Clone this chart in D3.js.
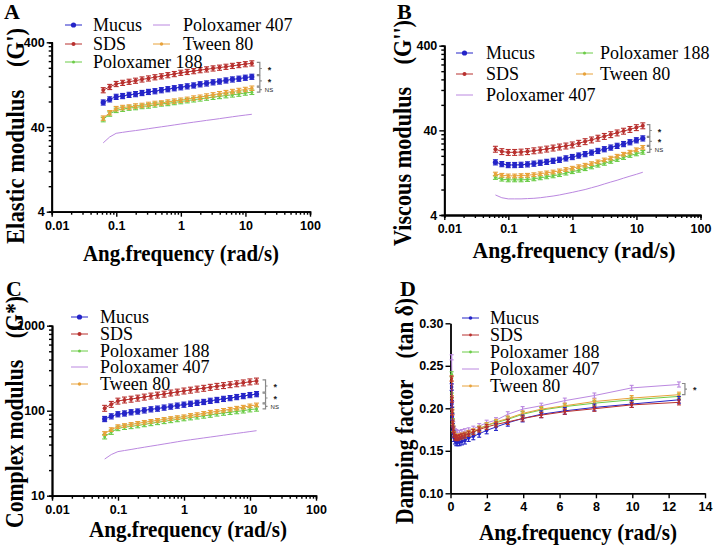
<!DOCTYPE html>
<html>
<head>
<meta charset="utf-8">
<script src="https://cdn.jsdelivr.net/npm/d3@7"></script>
<style>
body { margin: 0; background: #fff; }
svg { display: block; }
.tick text { font-family: "Liberation Sans", Arial, sans-serif; font-weight: bold; font-size: 12.5px; fill: #000; }
.title { font-family: "Liberation Serif", "Times New Roman", serif; font-weight: bold; fill: #000; white-space: pre; }
.legend text { font-family: "Liberation Serif", "Times New Roman", serif; font-size: 18px; fill: #000; white-space: pre; }
.sig { font-family: "Liberation Sans", Arial, sans-serif; fill: #222; }
</style>
</head>
<body>
<svg id="fig" width="714" height="551"></svg>
<script>
// angular frequency (rad/s)
var freq = [0.0628, 0.0791, 0.0996, 0.1254, 0.1579, 0.1988, 0.2503, 0.3151, 0.3967, 0.4994, 0.6287, 0.7915,
	0.9964, 1.2544, 1.5792, 1.9881, 2.5029, 3.1510, 3.9669, 4.9940, 6.2872, 7.9151, 9.9645, 12.5664];

var groups = ["Mucus", "SDS", "Poloxamer 188", "Poloxamer 407", "Tween 80"];
var groupColor = ["#2424c8", "#b8302e", "#6ccc48", "#bb88e0", "#e8a23a"];

// A - elastic modulus G'
var gpMucus = [78, 85, 91, 93, 96, 98, 101, 104, 106, 109, 112, 115, 118, 121, 124, 128, 131, 135, 138, 142, 146, 149, 153, 157];
var gpSDS = [109, 119, 129, 133, 137, 141, 146, 150, 155, 159, 164, 169, 175, 179, 183, 188, 192, 197, 201, 206, 211, 216, 221, 226];
var gpP188 = [49, 57, 63, 65, 67, 68, 70, 71, 73, 75, 76, 78, 80, 82, 84, 86, 88, 90, 92, 94, 96, 98, 101, 103];
var gpP407 = [26, 30.5, 33.7, 34.6, 35.5, 36.3, 37.2, 38.2, 39.2, 40.2, 41.2, 42.3, 43.4, 44.5, 45.6, 46.7, 47.9, 49.0, 50.2, 51.5, 52.8, 54.1, 55.3, 56.5];
var gpTween = [51, 59, 66, 68, 69, 71, 72, 74, 76, 77, 79, 81, 83, 85, 88, 90, 93, 96, 99, 102, 105, 108, 111, 115];
var gpErr = [0.07, 0.07, 0.06, 0, 0.06];

// B - viscous modulus G''
var gppMucus = [16.8, 16.0, 15.6, 15.6, 15.7, 15.9, 16.2, 16.6, 17.0, 17.5, 18.0, 18.7, 19.4, 20.2, 21.0, 21.9, 22.9, 24.0, 25.1, 26.3, 27.6, 29.0, 30.6, 32.2];
var gppSDS = [24, 22.5, 22, 22, 22.2, 22.5, 23, 23.5, 24.1, 24.8, 25.5, 26.2, 27, 28.2, 29.5, 30.9, 32.4, 34, 35.7, 37.4, 39.2, 41.1, 43.2, 45.4];
var gppP188 = [11.1, 10.6, 10.4, 10.4, 10.4, 10.5, 10.7, 11.0, 11.3, 11.6, 12.0, 12.5, 13.0, 13.5, 14.1, 14.8, 15.5, 16.3, 17.2, 18.1, 19.1, 20.2, 21.1, 22.0];
var gppP407 = [6.9, 6.4, 6.2, 6.2, 6.2, 6.25, 6.3, 6.4, 6.55, 6.7, 6.9, 7.15, 7.4, 7.7, 8.0, 8.4, 8.8, 9.3, 9.8, 10.3, 10.9, 11.5, 12.1, 12.8];
var gppTween = [12.2, 11.8, 11.6, 11.6, 11.7, 11.8, 12.0, 12.3, 12.6, 12.9, 13.3, 13.8, 14.3, 14.9, 15.5, 16.2, 17.0, 17.9, 18.8, 19.8, 20.9, 22.1, 23.6, 25.2];
var gppErr = [0.07, 0.08, 0.05, 0, 0.05];

// C - complex modulus G*
var gsMucus = [80, 86, 91, 93, 96, 98, 101, 104, 106, 109, 112, 115, 118, 121, 124, 127, 131, 134, 138, 141, 145, 149, 153, 157];
var gsSDS = [107, 119, 130, 134, 137, 141, 145, 149, 153, 157, 162, 166, 171, 175, 180, 184, 189, 194, 198, 203, 208, 213, 219, 224];
var gsP188 = [49.5, 56, 62, 64, 65.5, 67, 69, 71, 73, 75, 77, 79, 81, 83, 85, 87, 89, 92, 94, 96, 98, 100, 103, 105];
var gsP407 = [27, 30.5, 33, 34, 35, 36.1, 37.2, 38.3, 39.4, 40.6, 41.8, 43.1, 44.4, 45.5, 46.6, 47.8, 49.0, 50.2, 51.5, 52.8, 54.1, 55.4, 56.8, 58.2];
var gsTween = [54, 60, 65, 67, 69, 71, 73, 75, 77, 79, 81, 83, 85, 88, 90, 93, 96, 98, 101, 104, 107, 110, 114, 117];
var gsErr = [0.07, 0.08, 0.06, 0, 0.05];

// D - damping factor tan delta
var tdMucus = [0.225, 0.205, 0.19, 0.178, 0.170, 0.165, 0.162, 0.160, 0.160, 0.160, 0.161, 0.162, 0.165, 0.167, 0.170, 0.174, 0.178, 0.183, 0.188, 0.193, 0.197, 0.201, 0.205, 0.210];
var tdSDS = [0.235, 0.21, 0.195, 0.182, 0.174, 0.169, 0.166, 0.165, 0.165, 0.166, 0.167, 0.168, 0.170, 0.172, 0.175, 0.178, 0.181, 0.184, 0.188, 0.192, 0.196, 0.1995, 0.204, 0.207];
var tdP188 = [0.24, 0.215, 0.198, 0.185, 0.176, 0.170, 0.167, 0.165, 0.165, 0.166, 0.167, 0.168, 0.170, 0.172, 0.176, 0.180, 0.183, 0.187, 0.193, 0.198, 0.202, 0.206, 0.210, 0.214];
var tdP407 = [0.26, 0.225, 0.205, 0.19, 0.181, 0.176, 0.173, 0.172, 0.171, 0.171, 0.172, 0.173, 0.174, 0.176, 0.179, 0.183, 0.186, 0.193, 0.199, 0.203, 0.209, 0.215, 0.224, 0.228];
var tdTween = [0.235, 0.212, 0.196, 0.184, 0.176, 0.170, 0.167, 0.166, 0.166, 0.167, 0.168, 0.169, 0.171, 0.173, 0.176, 0.180, 0.184, 0.188, 0.194, 0.199, 0.203, 0.208, 0.212, 0.216];
var tdErr = [0.004, 0.003, 0.003, 0.003, 0.003];

var svg = d3.select("#fig");
var drawOrder = [3, 2, 4, 0, 1];

var panels = [
	{
		letter: "A", lx: 4, ly: 19, log: true,
		xr: [51.7, 310], yr: [211.7, 42.3], yDom: [4, 400], yMajor: [4, 40, 400],
		data: [gpMucus, gpSDS, gpP188, gpP407, gpTween], err: gpErr,
		ytitle: "Elastic modulus    (G')", yt: [24, 136, 216], xt: [181, 261, 196],
		legend: [[0, 65, 25, 93], [1, 65, 44, 93], [2, 65, 62, 93], [3, 153, 25, 183], [4, 153, 44, 183]],
		sig: { pairs: [[1, 0], [0, 4], [4, 2]], labels: ["*", "*", "NS"], dx: 8 }
	},
	{
		letter: "B", lx: 397, ly: 19, log: true,
		xr: [444.3, 700.5], yr: [215, 45.7], yDom: [4, 400], yMajor: [4, 40, 400],
		data: [gppMucus, gppSDS, gppP188, gppP407, gppTween], err: gppErr,
		ytitle: "Viscous modulus    (G'')", yt: [411, 133, 226], xt: [574, 258, 203],
		legend: [[0, 456, 53, 486], [1, 456, 74, 486], [3, 456, 95, 486], [2, 576, 53, 600], [4, 576, 74, 600]],
		sig: { pairs: [[1, 0], [0, 4], [4, 2]], labels: ["*", "*", "NS"], dx: 7 }
	},
	{
		letter: "C", lx: 6, ly: 296, log: true,
		xr: [52, 316], yr: [495.7, 325.7], yDom: [10, 1000], yMajor: [10, 100, 1000],
		data: [gsMucus, gsSDS, gsP188, gsP407, gsTween], err: gsErr,
		ytitle: "Complex modulus    (G*)", yt: [23, 412, 232], xt: [188, 537, 198],
		legend: [[0, 71, 317, 100], [1, 71, 334, 100], [2, 71, 351, 100], [3, 71, 367, 100], [4, 71, 384, 100]],
		sig: { pairs: [[1, 0], [0, 4], [4, 2]], labels: ["*", "*", "NS"], dx: 9 }
	},
	{
		letter: "D", lx: 400, ly: 296, log: false,
		xr: [450.5, 705], yr: [493.3, 323.3], yDom: [0.10, 0.30], yMajor: [0.10, 0.15, 0.20, 0.25, 0.30],
		data: [tdMucus, tdSDS, tdP188, tdP407, tdTween], err: tdErr,
		ytitle: "Damping factor    (tan \u03b4)", yt: [413, 411, 226], xt: [578, 540, 198],
		legend: [[0, 462, 318, 490], [1, 462, 335, 490], [2, 462, 352, 490], [3, 462, 369, 490], [4, 462, 386, 490]],
		sig: { pairs: [[3, 4]], labels: ["*"], dx: 6 }
	}
];

function logMinors(dom) {
	var out = [];
	for (var b = dom[0]; b < dom[1] * 0.999; b *= 10) {
		for (var k = 2; k < 10; k++) out.push(b * k);
	}
	return out;
}

function styleAxis(sel) {
	sel.select(".domain").attr("stroke", "#000").attr("stroke-width", 1.8);
	sel.selectAll(".tick line").attr("stroke", "#000").attr("stroke-width", 1.4);
	sel.attr("font-family", null).attr("font-size", null);
}

panels.forEach(function(p) {
	var g = svg.append("g");
	var x, y;
	if (p.log) {
		x = d3.scaleLog().domain([0.01, 100]).range(p.xr);
		y = d3.scaleLog().domain(p.yDom).range(p.yr);
	} else {
		x = d3.scaleLinear().domain([0, 14]).range(p.xr);
		y = d3.scaleLinear().domain(p.yDom).range(p.yr);
	}

	// axes
	var xMajor = p.log ? [0.01, 0.1, 1, 10, 100] : d3.range(0, 15, 2);
	var xFmt = p.log ? function(d) { return String(d); } : d3.format("d");
	var yFmt = p.log ? function(d) { return String(d); } : d3.format(".2f");

	if (p.log) {
		g.append("g").attr("transform", "translate(0," + p.yr[0] + ")")
		.call(d3.axisBottom(x).tickValues(logMinors([0.01, 100])).tickSize(3).tickFormat(""))
		.call(styleAxis);
		g.append("g").attr("transform", "translate(" + p.xr[0] + ",0)")
		.call(d3.axisLeft(y).tickValues(logMinors(p.yDom)).tickSize(3).tickFormat(""))
		.call(styleAxis);
	}
	var xa = g.append("g").attr("transform", "translate(0," + p.yr[0] + ")")
	.call(d3.axisBottom(x).tickValues(xMajor).tickFormat(xFmt).tickSize(5).tickSizeOuter(0).tickPadding(4))
	.call(styleAxis);
	if (p.log) xa.selectAll(".tick text").filter(function(d) { return d === 0.01; }).attr("dx", 5);
	g.append("g").attr("transform", "translate(" + p.xr[0] + ",0)")
	.call(d3.axisLeft(y).tickValues(p.yMajor).tickFormat(yFmt).tickSize(5).tickSizeOuter(0).tickPadding(2))
	.call(styleAxis);

	// series
	var line = d3.line().x(function(d, i) { return x(freq[i]); }).y(function(d) { return y(d); });
	var rad = p.log ? [2.6, 2.0, 1.5, 0, 1.7] : [1.8, 1.4, 1.4, 0, 1.4];
	var cap = p.log ? 2.5 : 2;
	drawOrder.forEach(function(gi) {
		var vals = p.data[gi], col = groupColor[gi], e = p.err[gi];
		var s = g.append("g");
		s.append("path").datum(vals)
		.attr("d", line).attr("fill", "none").attr("stroke", col).attr("stroke-width", 1);
		if (e > 0) {
			var lo = function(d) { return p.log ? d * (1 - e) : d - e; };
			var hi = function(d) { return p.log ? d * (1 + e) : d + e; };
			var bars = s.selectAll("g.eb").data(vals).enter().append("g").attr("class", "eb");
			bars.append("line")
			.attr("x1", function(d, i) { return x(freq[i]); })
			.attr("x2", function(d, i) { return x(freq[i]); })
			.attr("y1", function(d) { return y(lo(d)); })
			.attr("y2", function(d) { return y(hi(d)); })
			.attr("stroke", col).attr("stroke-width", 1.2);
			[lo, hi].forEach(function(f) {
				bars.append("line")
				.attr("x1", function(d, i) { return x(freq[i]) - cap; })
				.attr("x2", function(d, i) { return x(freq[i]) + cap; })
				.attr("y1", function(d) { return y(f(d)); })
				.attr("y2", function(d) { return y(f(d)); })
				.attr("stroke", col).attr("stroke-width", 1.1);
			});
		}
		if (rad[gi] > 0) {
			s.selectAll("circle").data(vals).enter().append("circle")
			.attr("cx", function(d, i) { return x(freq[i]); })
			.attr("cy", function(d) { return y(d); })
			.attr("r", rad[gi]).attr("fill", col);
		}
	});

	// significance brackets at the last frequency
	var last = freq.length - 1, bx = x(freq[last]) + p.sig.dx;
	p.sig.pairs.forEach(function(pr, k) {
		var y1 = y(p.data[pr[0]][last]) - 1, y2 = y(p.data[pr[1]][last]) - (k < p.sig.pairs.length - 1 ? 2 : 0);
		g.append("path")
		.attr("d", "M" + (bx - 3) + "," + y1 + "H" + bx + "V" + y2 + "H" + (bx - 3) + "M" + bx + "," + (y1 + y2) / 2 + "h2")
		.attr("fill", "none").attr("stroke", "#888").attr("stroke-width", 1.2);
		var lab = p.sig.labels[k], ns = lab === "NS";
		g.append("text").attr("class", "sig")
		.attr("x", bx + (ns ? 5 : 8)).attr("y", (y1 + y2) / 2 + (ns ? 2.5 : 4))
		.attr("font-size", ns ? 6 : 9).attr("font-weight", ns ? "normal" : "bold")
		.text(lab);
	});

	// legend
	var leg = g.append("g").attr("class", "legend");
	p.legend.forEach(function(it) {
		var gi = it[0], lx = it[1], ly = it[2], col = groupColor[gi];
		leg.append("line").attr("x1", lx).attr("x2", lx + 17).attr("y1", ly).attr("y2", ly)
		.attr("stroke", col).attr("stroke-width", 1);
		if (rad[gi] > 0) {
			leg.append("circle").attr("cx", lx + 8.5).attr("cy", ly).attr("r", rad[gi]).attr("fill", col);
		}
		leg.append("text").attr("x", it[3]).attr("y", ly).attr("dy", "0.35em").text(groups[gi]);
	});

	// titles
	svg.append("text").attr("class", "title").attr("x", p.lx).attr("y", p.ly)
	.attr("font-size", 22).text(p.letter);
	svg.append("text").attr("class", "title").attr("x", p.xt[0]).attr("y", p.xt[1])
	.attr("text-anchor", "middle").attr("font-size", 24)
	.attr("textLength", p.xt[2]).attr("lengthAdjust", "spacingAndGlyphs")
	.text("Ang.frequency (rad/s)");
	svg.append("text").attr("class", "title")
	.attr("transform", "translate(" + p.yt[0] + "," + p.yt[1] + ") rotate(-90)")
	.attr("text-anchor", "middle").attr("font-size", 25)
	.attr("textLength", p.yt[2]).attr("lengthAdjust", "spacingAndGlyphs")
	.text(p.ytitle);
});
</script>
</body>
</html>
